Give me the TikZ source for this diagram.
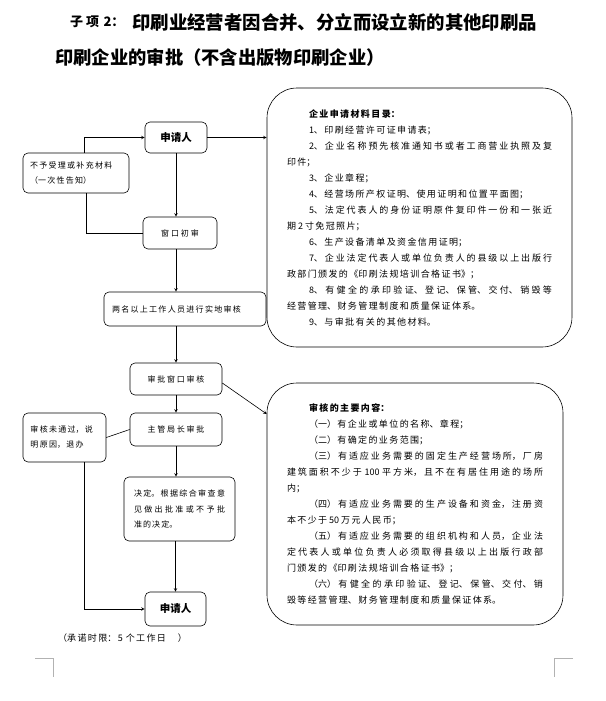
\documentclass[tikz,border=0pt]{standalone}
\usepackage{fontspec}
\setmainfont{Noto Sans CJK SC}
\XeTeXlinebreaklocale "zh"
\XeTeXlinebreakskip=0pt plus 1pt
\setlength{\parindent}{0pt}
\usepackage{xcolor}
\usepackage{tikz}
\usetikzlibrary{calc, positioning}
\newcommand{\ind}{\hspace*{22pt}}
\newcommand{\bodysize}{\fontsize{9}{16}\selectfont\XeTeXlinebreakskip=1.4pt plus 1pt\relax}
\newcommand{\boxsize}{\fontsize{8}{15}\selectfont\XeTeXlinebreakskip=1.3pt plus 1pt\relax}
\newcommand{\decsize}{\fontsize{8}{15.5}\selectfont\XeTeXlinebreakskip=1.1pt plus 1pt\relax}
\newcommand{\subsize}{\bfseries\fontsize{13}{13}\selectfont\XeTeXlinebreakskip=3pt\relax}

\begin{document}
\begin{tikzpicture}[>=stealth, x=1pt, y=-1pt,
    flowbox/.style={draw, rounded corners=5pt, line width=0.6pt, inner sep=2pt,
        font=\boxsize, align=center},
    namebox/.style={flowbox, font=\bfseries\fontsize{10.5}{12}\selectfont},
    bigbox/.style={draw, rounded corners=30pt, line width=0.6pt, inner sep=0pt,
        font=\bodysize, align=justify},
    flow/.style={->, line width=0.6pt},
    link/.style={line width=0.6pt},
    cropmark/.style={draw=gray!60, line width=0.6pt}]
    \useasboundingbox (0,0) rectangle (605,701);

    % title
    \node[anchor=west, inner sep=0pt, text width=62pt, align=left, font=\subsize] (sub) at (70,22) {子项 2：};
    \node[anchor=west, inner sep=0pt, font=\bfseries\fontsize{18.4}{20}\selectfont] (tit1) at (132,22)
        {印刷业经营者因合并、分立而设立新的其他印刷品};
    \node[anchor=west, inner sep=0pt, font=\bfseries\fontsize{18.3}{20}\selectfont] (tit2) at (55,58)
        {印刷企业的审批（不含出版物印刷企业）};

    % upper flow
    \node[namebox, minimum width=62pt, minimum height=31pt] (app1) at (176,137.5) {申请人};
    \node[flowbox, minimum width=106pt, minimum height=40pt, text width=92pt, inner xsep=7pt, align=left]
        (rej1) at (76,173) {不予受理或补充材料\\（一次性告知）};
    \node[flowbox, minimum width=74pt, minimum height=32pt, text width=60pt] (win) at (180,233) {窗口初审};
    \node[flowbox, minimum width=162pt, minimum height=34pt, text width=146pt, inner xsep=8pt, align=left]
        (site) at (185,309) {两名以上工作人员进行实地审核};

    \node[bigbox, minimum width=305pt, minimum height=259pt, text width=265pt] (list) at (419.5,217.5)
        {\ind{\bfseries 企业申请材料目录：}\par
         \ind 1、印刷经营许可证申请表；\par
         \ind 2、企业名称预先核准通知书或者工商营业执照及复\linebreak 印件；\par
         \ind 3、企业章程；\par
         \ind 4、经营场所产权证明、使用证明和位置平面图；\par
         \ind 5、法定代表人的身份证明原件复印件一份和一张近\linebreak 期 2 寸免冠照片；\par
         \ind 6、生产设备清单及资金信用证明；\par
         \ind 7、企业法定代表人或单位负责人的县级以上出版行\linebreak 政部门颁发的《印刷法规培训合格证书》；\par
         \ind 8、有健全的承印验证、登记、保管、交付、销毁等\linebreak 经营管理、财务管理制度和质量保证体系。\par
         \ind 9、与审批有关的其他材料。};

    % lower flow
    \node[flowbox, minimum width=92pt, minimum height=32pt, text width=70pt] (spck) at (176,379) {审批窗口审核};
    \node[flowbox, minimum width=92pt, minimum height=33pt, text width=70pt] (dir) at (176,429.5) {主管局长审批};
    \node[flowbox, minimum width=83pt, minimum height=49pt, text width=68pt, inner xsep=7.5pt, align=left]
        (rej2) at (64.5,437.5) {审核未通过，说\\明原因，退办};
    \node[flowbox, minimum width=111pt, minimum height=64pt, text width=91pt, inner xsep=10pt,
        align=justify, font=\decsize] (dec) at (179.5,509)
        {决定。根据综合审查意\linebreak 见做出批准或不予批\linebreak 准的决定。};
    \node[namebox, minimum width=61pt, minimum height=34pt] (app2) at (175.5,609) {申请人};

    \node[bigbox, minimum width=296pt, minimum height=242pt, text width=256pt] (cont) at (415,504)
        {\ind{\bfseries 审核的主要内容：}\par
         \ind（一）有企业或单位的名称、章程；\par
         \ind（二）有确定的业务范围；\par
         \ind（三）有适应业务需要的固定生产经营场所，厂房\linebreak 建筑面积不少于 100 平方米，且不在有居住用途的场所\linebreak 内；\par
         \ind（四）有适应业务需要的生产设备和资金，注册资\linebreak 本不少于 50 万元人民币；\par
         \ind（五）有适应业务需要的组织机构和人员，企业法\linebreak 定代表人或单位负责人必须取得县级以上出版行政部\linebreak 门颁发的《印刷法规培训合格证书》；\par
         \ind（六）有健全的承印验证、登记、保管、交付、销\linebreak 毁等经营管理、财务管理制度和质量保证体系。};

    \node[anchor=west, inner sep=0pt, text width=140pt, align=left, font=\bodysize] (limit) at (58,638)
        {（承诺时限：5 个工作日\hspace{12pt}）};

    % connectors
    \draw[flow] (app1.east) -- (app1.east -| list.west);
    \draw[flow] (app1.south) -- (app1.south |- win.north);
    \draw[flow] ([xshift=8pt]rej1.north) |- (app1.west);
    \draw[link] ([xshift=10pt]rej1.south) |- (win.west);
    \draw[flow] (win.south -| app1) -- (site.north -| app1);
    \draw[flow] (site.south -| app1) -- (spck.north);
    \draw[flow] (spck.south) -- (dir.north);
    \draw[flow] ([yshift=-4pt]spck.east) -- ([yshift=90pt]cont.west);
    \draw[link] (dir.west) -- (rej2.east);
    \draw[flow] (dir.south) -- (dir.south |- dec.north);
    \draw[flow] (dec.south -| app2) -- (app2.north);
    \draw[flow] ([xshift=20pt]rej2.south) |- (app2.west);

    % page corner marks
    \draw[cropmark] (35,658) -- (53,658) -- (53,677);
    \draw[cropmark] (573,658) -- (554,658) -- (554,677);
\end{tikzpicture}
\end{document}
